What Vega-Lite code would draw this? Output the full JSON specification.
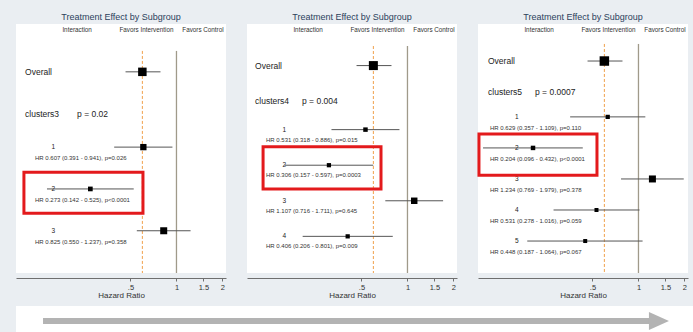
{
  "$schema": "https://vega.github.io/schema/vega-lite/v6.json",
  "padding": {"left": 0, "top": 13, "right": 0, "bottom": 0},
  "background": "#eaeef2",
  "datasets": {
    "rows": [
      {"panel": 1, "kind": "overall", "label": "Overall", "pos": 1, "hr": 0.598, "lo": 0.464, "hi": 0.786, "w": 72},
      {"panel": 1, "kind": "group", "label": "clusters3", "p": "p = 0.02", "pos": 2},
      {"panel": 1, "kind": "sub", "label": "1", "pos": 2.8, "hr": 0.607, "lo": 0.391, "hi": 0.941, "w": 40, "summary": "HR 0.607 (0.391 - 0.941), p=0.026"},
      {"panel": 1, "kind": "sub", "label": "2", "pos": 3.8, "hr": 0.273, "lo": 0.142, "hi": 0.525, "w": 22, "summary": "HR 0.273 (0.142 - 0.525), p<0.0001"},
      {"panel": 1, "kind": "sub", "label": "3", "pos": 4.8, "hr": 0.825, "lo": 0.55, "hi": 1.237, "w": 49, "summary": "HR 0.825 (0.550 - 1.237), p=0.358"},
      {"panel": 2, "kind": "overall", "label": "Overall", "pos": 1, "hr": 0.598, "lo": 0.464, "hi": 0.786, "w": 81},
      {"panel": 2, "kind": "group", "label": "clusters4", "p": "p = 0.004", "pos": 2},
      {"panel": 2, "kind": "sub", "label": "1", "pos": 2.8, "hr": 0.531, "lo": 0.318, "hi": 0.886, "w": 20, "summary": "HR 0.531 (0.318 - 0.886), p=0.015"},
      {"panel": 2, "kind": "sub", "label": "2", "pos": 3.8, "hr": 0.306, "lo": 0.157, "hi": 0.597, "w": 18, "summary": "HR 0.306 (0.157 - 0.597), p=0.0003"},
      {"panel": 2, "kind": "sub", "label": "3", "pos": 4.8, "hr": 1.107, "lo": 0.716, "hi": 1.711, "w": 42, "summary": "HR 1.107 (0.716 - 1.711), p=0.645"},
      {"panel": 2, "kind": "sub", "label": "4", "pos": 5.8, "hr": 0.406, "lo": 0.206, "hi": 0.801, "w": 18, "summary": "HR 0.406 (0.206 - 0.801), p=0.009"},
      {"panel": 3, "kind": "overall", "label": "Overall", "pos": 1, "hr": 0.598, "lo": 0.464, "hi": 0.786, "w": 90},
      {"panel": 3, "kind": "group", "label": "clusters5", "p": "p = 0.0007", "pos": 2},
      {"panel": 3, "kind": "sub", "label": "1", "pos": 2.8, "hr": 0.629, "lo": 0.357, "hi": 1.109, "w": 18, "summary": "HR 0.629 (0.357 - 1.109), p=0.110"},
      {"panel": 3, "kind": "sub", "label": "2", "pos": 3.8, "hr": 0.204, "lo": 0.096, "hi": 0.432, "w": 20, "summary": "HR 0.204 (0.096 - 0.432), p<0.0001"},
      {"panel": 3, "kind": "sub", "label": "3", "pos": 4.8, "hr": 1.234, "lo": 0.769, "hi": 1.979, "w": 49, "summary": "HR 1.234 (0.769 - 1.979), p=0.378"},
      {"panel": 3, "kind": "sub", "label": "4", "pos": 5.8, "hr": 0.531, "lo": 0.278, "hi": 1.016, "w": 16, "summary": "HR 0.531 (0.278 - 1.016), p=0.059"},
      {"panel": 3, "kind": "sub", "label": "5", "pos": 6.8, "hr": 0.448, "lo": 0.187, "hi": 1.064, "w": 16, "summary": "HR 0.448 (0.187 - 1.064), p=0.067"}
    ],
    "highlight": [
      {"panel": 1, "cluster": "2"},
      {"panel": 2, "cluster": "2"},
      {"panel": 3, "cluster": "2"}
    ]
  },
  "spacing": 6,
  "vconcat": [
    {
      "spacing": 5,
      "resolve": {"scale": {"x": "independent", "y": "independent"}},
      "hconcat": [
        {
          "width": 210, "height": 249,
          "title": {"text": "Treatment Effect by Subgroup", "fontSize": 9, "fontWeight": "normal", "color": "#2b3f5c", "offset": 2, "frame": "group", "anchor": "middle"},
          "layer": [
            {"data": {"name": "rows"}, "transform": [{"filter": "datum.panel == 1 && datum.kind == 'overall'"}],
             "mark": {"type": "rule", "color": "#a09a8a", "strokeWidth": 1.3},
             "encoding": {"x": {"datum": 1, "type": "quantitative", "scale": {"type": "log", "domain": [0.089, 2.11], "nice": false}},
                          "y": {"datum": 0.5, "type": "quantitative", "scale": {"domain": [-0.144, 5.81], "reverse": true, "nice": false, "zero": false}},
                          "y2": {"datum": 5.81}}},
            {"data": {"name": "rows"}, "transform": [{"filter": "datum.panel == 1 && datum.kind == 'overall'"}],
             "mark": {"type": "rule", "color": "#f0a04b", "strokeWidth": 1, "strokeDash": [3, 2]},
             "encoding": {"x": {"field": "hr", "type": "quantitative", "scale": {"type": "log", "domain": [0.089, 2.11], "nice": false}},
                          "y": {"datum": 0.5, "type": "quantitative", "scale": {"domain": [-0.144, 5.81], "reverse": true, "nice": false, "zero": false}},
                          "y2": {"datum": 5.81}}},
            {"data": {"name": "rows"}, "transform": [{"filter": "datum.panel == 1 && datum.kind != 'group'"}],
             "mark": {"type": "rule", "color": "#555555", "strokeWidth": 1},
             "encoding": {"x": {"field": "lo", "type": "quantitative", "scale": {"type": "log", "domain": [0.089, 2.11], "nice": false},
                                "axis": {"values": [0.5, 1, 1.5, 2], "labelExpr": "datum.value == 0.5 ? '.5' : format(datum.value, '~g')", "title": "Hazard Ratio", "offset": 5, "grid": false, "domainColor": "#6f6f6f", "tickColor": "#6f6f6f", "tickSize": 3, "labelFontSize": 7.5, "labelColor": "#333333", "labelPadding": 2, "labelOverlap": false, "labelFlush": false, "titleFontSize": 8, "titleFontWeight": "normal", "titleColor": "#333333", "titlePadding": 1}},
                          "x2": {"field": "hi"},
                          "y": {"field": "pos", "type": "quantitative", "scale": {"domain": [-0.144, 5.81], "reverse": true, "nice": false, "zero": false},
                                "axis": {"domain": false, "ticks": false, "labels": false, "grid": false, "title": "", "minExtent": 16, "maxExtent": 16}}}},
            {"data": {"name": "rows"}, "transform": [{"filter": "datum.panel == 1 && datum.kind != 'group'"}],
             "mark": {"type": "point", "shape": "square", "filled": true, "color": "#000000", "opacity": 1},
             "encoding": {"x": {"field": "hr", "type": "quantitative", "scale": {"type": "log", "domain": [0.089, 2.11], "nice": false}},
                          "y": {"field": "pos", "type": "quantitative", "scale": {"domain": [-0.144, 5.81], "reverse": true, "nice": false, "zero": false}},
                          "size": {"field": "w", "type": "quantitative", "scale": {"domain": [0, 100], "range": [0, 100]}, "legend": null}}},
            {"data": {"name": "rows"}, "transform": [{"filter": "datum.panel == 1 && datum.kind != 'sub'"}],
             "mark": {"type": "text", "align": "left", "baseline": "middle", "fontSize": 8.5, "color": "#222222"},
             "encoding": {"text": {"field": "label"},
                          "x": {"datum": 0.102, "type": "quantitative", "scale": {"type": "log", "domain": [0.089, 2.11], "nice": false}},
                          "y": {"field": "pos", "type": "quantitative", "scale": {"domain": [-0.144, 5.81], "reverse": true, "nice": false, "zero": false}}}},
            {"data": {"name": "rows"}, "transform": [{"filter": "datum.panel == 1 && datum.kind == 'group'"}],
             "mark": {"type": "text", "align": "left", "baseline": "middle", "fontSize": 8.5, "color": "#222222"},
             "encoding": {"text": {"field": "p"},
                          "x": {"datum": 0.2235, "type": "quantitative", "scale": {"type": "log", "domain": [0.089, 2.11], "nice": false}},
                          "y": {"field": "pos", "type": "quantitative", "scale": {"domain": [-0.144, 5.81], "reverse": true, "nice": false, "zero": false}}}},
            {"data": {"name": "rows"}, "transform": [{"filter": "datum.panel == 1 && datum.kind == 'sub'"}],
             "mark": {"type": "text", "align": "center", "baseline": "middle", "fontSize": 6.5, "color": "#222222"},
             "encoding": {"text": {"field": "label"},
                          "x": {"datum": 0.156, "type": "quantitative", "scale": {"type": "log", "domain": [0.089, 2.11], "nice": false}},
                          "y": {"field": "pos", "type": "quantitative", "scale": {"domain": [-0.144, 5.81], "reverse": true, "nice": false, "zero": false}}}},
            {"data": {"name": "rows"}, "transform": [{"filter": "datum.panel == 1 && datum.kind == 'sub'"}],
             "mark": {"type": "text", "align": "left", "baseline": "middle", "fontSize": 6, "dy": 11, "color": "#333333"},
             "encoding": {"text": {"field": "summary"},
                          "x": {"datum": 0.1185, "type": "quantitative", "scale": {"type": "log", "domain": [0.089, 2.11], "nice": false}},
                          "y": {"field": "pos", "type": "quantitative", "scale": {"domain": [-0.144, 5.81], "reverse": true, "nice": false, "zero": false}}}},
            {"data": {"name": "rows"}, "transform": [{"filter": "datum.panel == 1 && datum.kind == 'overall'"}],
             "mark": {"type": "text", "align": "center", "baseline": "middle", "fontSize": 6.3, "color": "#333333"},
             "encoding": {"text": {"value": "Interaction"},
                          "x": {"datum": 0.2235, "type": "quantitative", "scale": {"type": "log", "domain": [0.089, 2.11], "nice": false}},
                          "y": {"datum": 0, "type": "quantitative", "scale": {"domain": [-0.144, 5.81], "reverse": true, "nice": false, "zero": false}}}},
            {"data": {"name": "rows"}, "transform": [{"filter": "datum.panel == 1 && datum.kind == 'overall'"}],
             "mark": {"type": "text", "align": "center", "baseline": "middle", "fontSize": 6.3, "color": "#333333"},
             "encoding": {"text": {"value": "Favors Intervention"},
                          "x": {"datum": 0.636, "type": "quantitative", "scale": {"type": "log", "domain": [0.089, 2.11], "nice": false}},
                          "y": {"datum": 0, "type": "quantitative", "scale": {"domain": [-0.144, 5.81], "reverse": true, "nice": false, "zero": false}}}},
            {"data": {"name": "rows"}, "transform": [{"filter": "datum.panel == 1 && datum.kind == 'overall'"}],
             "mark": {"type": "text", "align": "center", "baseline": "middle", "fontSize": 6.3, "color": "#333333"},
             "encoding": {"text": {"value": "Favors Control"},
                          "x": {"datum": 1.491, "type": "quantitative", "scale": {"type": "log", "domain": [0.089, 2.11], "nice": false}},
                          "y": {"datum": 0, "type": "quantitative", "scale": {"domain": [-0.144, 5.81], "reverse": true, "nice": false, "zero": false}}}},
            {"data": {"name": "highlight"}, "transform": [{"filter": "datum.panel == 1"}],
             "mark": {"type": "rect", "filled": false, "color": "#e31a1c", "strokeWidth": 3},
             "encoding": {"x": {"datum": 0.1003, "type": "quantitative", "scale": {"type": "log", "domain": [0.089, 2.11], "nice": false}},
                          "x2": {"datum": 0.6035},
                          "y": {"datum": 3.4, "type": "quantitative", "scale": {"domain": [-0.144, 5.81], "reverse": true, "nice": false, "zero": false}},
                          "y2": {"datum": 4.38}}}
          ]
        },
        {
          "width": 210, "height": 249,
          "title": {"text": "Treatment Effect by Subgroup", "fontSize": 9, "fontWeight": "normal", "color": "#2b3f5c", "offset": 2, "frame": "group", "anchor": "middle"},
          "layer": [
            {"data": {"name": "rows"}, "transform": [{"filter": "datum.panel == 2 && datum.kind == 'overall'"}],
             "mark": {"type": "rule", "color": "#a09a8a", "strokeWidth": 1.3},
             "encoding": {"x": {"datum": 1, "type": "quantitative", "scale": {"type": "log", "domain": [0.089, 2.11], "nice": false}},
                          "y": {"datum": 0.45, "type": "quantitative", "scale": {"domain": [-0.169, 6.83], "reverse": true, "nice": false, "zero": false}},
                          "y2": {"datum": 6.83}}},
            {"data": {"name": "rows"}, "transform": [{"filter": "datum.panel == 2 && datum.kind == 'overall'"}],
             "mark": {"type": "rule", "color": "#f0a04b", "strokeWidth": 1, "strokeDash": [3, 2]},
             "encoding": {"x": {"field": "hr", "type": "quantitative", "scale": {"type": "log", "domain": [0.089, 2.11], "nice": false}},
                          "y": {"datum": 0.45, "type": "quantitative", "scale": {"domain": [-0.169, 6.83], "reverse": true, "nice": false, "zero": false}},
                          "y2": {"datum": 6.83}}},
            {"data": {"name": "rows"}, "transform": [{"filter": "datum.panel == 2 && datum.kind != 'group'"}],
             "mark": {"type": "rule", "color": "#555555", "strokeWidth": 1},
             "encoding": {"x": {"field": "lo", "type": "quantitative", "scale": {"type": "log", "domain": [0.089, 2.11], "nice": false},
                                "axis": {"values": [0.5, 1, 1.5, 2], "labelExpr": "datum.value == 0.5 ? '.5' : format(datum.value, '~g')", "title": "Hazard Ratio", "offset": 5, "grid": false, "domainColor": "#6f6f6f", "tickColor": "#6f6f6f", "tickSize": 3, "labelFontSize": 7.5, "labelColor": "#333333", "labelPadding": 2, "labelOverlap": false, "labelFlush": false, "titleFontSize": 8, "titleFontWeight": "normal", "titleColor": "#333333", "titlePadding": 1}},
                          "x2": {"field": "hi"},
                          "y": {"field": "pos", "type": "quantitative", "scale": {"domain": [-0.169, 6.83], "reverse": true, "nice": false, "zero": false},
                                "axis": {"domain": false, "ticks": false, "labels": false, "grid": false, "title": "", "minExtent": 16, "maxExtent": 16}}}},
            {"data": {"name": "rows"}, "transform": [{"filter": "datum.panel == 2 && datum.kind != 'group'"}],
             "mark": {"type": "point", "shape": "square", "filled": true, "color": "#000000", "opacity": 1},
             "encoding": {"x": {"field": "hr", "type": "quantitative", "scale": {"type": "log", "domain": [0.089, 2.11], "nice": false}},
                          "y": {"field": "pos", "type": "quantitative", "scale": {"domain": [-0.169, 6.83], "reverse": true, "nice": false, "zero": false}},
                          "size": {"field": "w", "type": "quantitative", "scale": {"domain": [0, 100], "range": [0, 100]}, "legend": null}}},
            {"data": {"name": "rows"}, "transform": [{"filter": "datum.panel == 2 && datum.kind != 'sub'"}],
             "mark": {"type": "text", "align": "left", "baseline": "middle", "fontSize": 8.5, "color": "#222222"},
             "encoding": {"text": {"field": "label"},
                          "x": {"datum": 0.1005, "type": "quantitative", "scale": {"type": "log", "domain": [0.089, 2.11], "nice": false}},
                          "y": {"field": "pos", "type": "quantitative", "scale": {"domain": [-0.169, 6.83], "reverse": true, "nice": false, "zero": false}}}},
            {"data": {"name": "rows"}, "transform": [{"filter": "datum.panel == 2 && datum.kind == 'group'"}],
             "mark": {"type": "text", "align": "left", "baseline": "middle", "fontSize": 8.5, "color": "#222222"},
             "encoding": {"text": {"field": "p"},
                          "x": {"datum": 0.204, "type": "quantitative", "scale": {"type": "log", "domain": [0.089, 2.11], "nice": false}},
                          "y": {"field": "pos", "type": "quantitative", "scale": {"domain": [-0.169, 6.83], "reverse": true, "nice": false, "zero": false}}}},
            {"data": {"name": "rows"}, "transform": [{"filter": "datum.panel == 2 && datum.kind == 'sub'"}],
             "mark": {"type": "text", "align": "center", "baseline": "middle", "fontSize": 6.5, "color": "#222222"},
             "encoding": {"text": {"field": "label"},
                          "x": {"datum": 0.156, "type": "quantitative", "scale": {"type": "log", "domain": [0.089, 2.11], "nice": false}},
                          "y": {"field": "pos", "type": "quantitative", "scale": {"domain": [-0.169, 6.83], "reverse": true, "nice": false, "zero": false}}}},
            {"data": {"name": "rows"}, "transform": [{"filter": "datum.panel == 2 && datum.kind == 'sub'"}],
             "mark": {"type": "text", "align": "left", "baseline": "middle", "fontSize": 6, "dy": 10, "color": "#333333"},
             "encoding": {"text": {"field": "summary"},
                          "x": {"datum": 0.1185, "type": "quantitative", "scale": {"type": "log", "domain": [0.089, 2.11], "nice": false}},
                          "y": {"field": "pos", "type": "quantitative", "scale": {"domain": [-0.169, 6.83], "reverse": true, "nice": false, "zero": false}}}},
            {"data": {"name": "rows"}, "transform": [{"filter": "datum.panel == 2 && datum.kind == 'overall'"}],
             "mark": {"type": "text", "align": "center", "baseline": "middle", "fontSize": 6.3, "color": "#333333"},
             "encoding": {"text": {"value": "Interaction"},
                          "x": {"datum": 0.2235, "type": "quantitative", "scale": {"type": "log", "domain": [0.089, 2.11], "nice": false}},
                          "y": {"datum": 0, "type": "quantitative", "scale": {"domain": [-0.169, 6.83], "reverse": true, "nice": false, "zero": false}}}},
            {"data": {"name": "rows"}, "transform": [{"filter": "datum.panel == 2 && datum.kind == 'overall'"}],
             "mark": {"type": "text", "align": "center", "baseline": "middle", "fontSize": 6.3, "color": "#333333"},
             "encoding": {"text": {"value": "Favors Intervention"},
                          "x": {"datum": 0.636, "type": "quantitative", "scale": {"type": "log", "domain": [0.089, 2.11], "nice": false}},
                          "y": {"datum": 0, "type": "quantitative", "scale": {"domain": [-0.169, 6.83], "reverse": true, "nice": false, "zero": false}}}},
            {"data": {"name": "rows"}, "transform": [{"filter": "datum.panel == 2 && datum.kind == 'overall'"}],
             "mark": {"type": "text", "align": "center", "baseline": "middle", "fontSize": 6.3, "color": "#333333"},
             "encoding": {"text": {"value": "Favors Control"},
                          "x": {"datum": 1.491, "type": "quantitative", "scale": {"type": "log", "domain": [0.089, 2.11], "nice": false}},
                          "y": {"datum": 0, "type": "quantitative", "scale": {"domain": [-0.169, 6.83], "reverse": true, "nice": false, "zero": false}}}},
            {"data": {"name": "highlight"}, "transform": [{"filter": "datum.panel == 2"}],
             "mark": {"type": "rect", "filled": false, "color": "#e31a1c", "strokeWidth": 3},
             "encoding": {"x": {"datum": 0.1134, "type": "quantitative", "scale": {"type": "log", "domain": [0.089, 2.11], "nice": false}},
                          "x2": {"datum": 0.671},
                          "y": {"datum": 3.28, "type": "quantitative", "scale": {"domain": [-0.169, 6.83], "reverse": true, "nice": false, "zero": false}},
                          "y2": {"datum": 4.47}}}
          ]
        },
        {
          "width": 210, "height": 249,
          "title": {"text": "Treatment Effect by Subgroup", "fontSize": 9, "fontWeight": "normal", "color": "#2b3f5c", "offset": 2, "frame": "group", "anchor": "middle"},
          "layer": [
            {"data": {"name": "rows"}, "transform": [{"filter": "datum.panel == 3 && datum.kind == 'overall'"}],
             "mark": {"type": "rule", "color": "#a09a8a", "strokeWidth": 1.3},
             "encoding": {"x": {"datum": 1, "type": "quantitative", "scale": {"type": "log", "domain": [0.089, 2.11], "nice": false}},
                          "y": {"datum": 0.45, "type": "quantitative", "scale": {"domain": [-0.193, 7.83], "reverse": true, "nice": false, "zero": false}},
                          "y2": {"datum": 7.83}}},
            {"data": {"name": "rows"}, "transform": [{"filter": "datum.panel == 3 && datum.kind == 'overall'"}],
             "mark": {"type": "rule", "color": "#f0a04b", "strokeWidth": 1, "strokeDash": [3, 2]},
             "encoding": {"x": {"field": "hr", "type": "quantitative", "scale": {"type": "log", "domain": [0.089, 2.11], "nice": false}},
                          "y": {"datum": 0.45, "type": "quantitative", "scale": {"domain": [-0.193, 7.83], "reverse": true, "nice": false, "zero": false}},
                          "y2": {"datum": 7.83}}},
            {"data": {"name": "rows"}, "transform": [{"filter": "datum.panel == 3 && datum.kind != 'group'"}],
             "mark": {"type": "rule", "color": "#555555", "strokeWidth": 1},
             "encoding": {"x": {"field": "lo", "type": "quantitative", "scale": {"type": "log", "domain": [0.089, 2.11], "nice": false},
                                "axis": {"values": [0.5, 1, 1.5, 2], "labelExpr": "datum.value == 0.5 ? '.5' : format(datum.value, '~g')", "title": "Hazard Ratio", "offset": 5, "grid": false, "domainColor": "#6f6f6f", "tickColor": "#6f6f6f", "tickSize": 3, "labelFontSize": 7.5, "labelColor": "#333333", "labelPadding": 2, "labelOverlap": false, "labelFlush": false, "titleFontSize": 8, "titleFontWeight": "normal", "titleColor": "#333333", "titlePadding": 1}},
                          "x2": {"field": "hi"},
                          "y": {"field": "pos", "type": "quantitative", "scale": {"domain": [-0.193, 7.83], "reverse": true, "nice": false, "zero": false},
                                "axis": {"domain": false, "ticks": false, "labels": false, "grid": false, "title": "", "minExtent": 16, "maxExtent": 16}}}},
            {"data": {"name": "rows"}, "transform": [{"filter": "datum.panel == 3 && datum.kind != 'group'"}],
             "mark": {"type": "point", "shape": "square", "filled": true, "color": "#000000", "opacity": 1},
             "encoding": {"x": {"field": "hr", "type": "quantitative", "scale": {"type": "log", "domain": [0.089, 2.11], "nice": false}},
                          "y": {"field": "pos", "type": "quantitative", "scale": {"domain": [-0.193, 7.83], "reverse": true, "nice": false, "zero": false}},
                          "size": {"field": "w", "type": "quantitative", "scale": {"domain": [0, 100], "range": [0, 100]}, "legend": null}}},
            {"data": {"name": "rows"}, "transform": [{"filter": "datum.panel == 3 && datum.kind != 'sub'"}],
             "mark": {"type": "text", "align": "left", "baseline": "middle", "fontSize": 8.5, "color": "#222222"},
             "encoding": {"text": {"field": "label"},
                          "x": {"datum": 0.1035, "type": "quantitative", "scale": {"type": "log", "domain": [0.089, 2.11], "nice": false}},
                          "y": {"field": "pos", "type": "quantitative", "scale": {"domain": [-0.193, 7.83], "reverse": true, "nice": false, "zero": false}}}},
            {"data": {"name": "rows"}, "transform": [{"filter": "datum.panel == 3 && datum.kind == 'group'"}],
             "mark": {"type": "text", "align": "left", "baseline": "middle", "fontSize": 8.5, "color": "#222222"},
             "encoding": {"text": {"field": "p"},
                          "x": {"datum": 0.2102, "type": "quantitative", "scale": {"type": "log", "domain": [0.089, 2.11], "nice": false}},
                          "y": {"field": "pos", "type": "quantitative", "scale": {"domain": [-0.193, 7.83], "reverse": true, "nice": false, "zero": false}}}},
            {"data": {"name": "rows"}, "transform": [{"filter": "datum.panel == 3 && datum.kind == 'sub'"}],
             "mark": {"type": "text", "align": "center", "baseline": "middle", "fontSize": 6.5, "color": "#222222"},
             "encoding": {"text": {"field": "label"},
                          "x": {"datum": 0.16, "type": "quantitative", "scale": {"type": "log", "domain": [0.089, 2.11], "nice": false}},
                          "y": {"field": "pos", "type": "quantitative", "scale": {"domain": [-0.193, 7.83], "reverse": true, "nice": false, "zero": false}}}},
            {"data": {"name": "rows"}, "transform": [{"filter": "datum.panel == 3 && datum.kind == 'sub'"}],
             "mark": {"type": "text", "align": "left", "baseline": "middle", "fontSize": 6, "dy": 11, "color": "#333333"},
             "encoding": {"text": {"field": "summary"},
                          "x": {"datum": 0.1067, "type": "quantitative", "scale": {"type": "log", "domain": [0.089, 2.11], "nice": false}},
                          "y": {"field": "pos", "type": "quantitative", "scale": {"domain": [-0.193, 7.83], "reverse": true, "nice": false, "zero": false}}}},
            {"data": {"name": "rows"}, "transform": [{"filter": "datum.panel == 3 && datum.kind == 'overall'"}],
             "mark": {"type": "text", "align": "center", "baseline": "middle", "fontSize": 6.3, "color": "#333333"},
             "encoding": {"text": {"value": "Interaction"},
                          "x": {"datum": 0.2235, "type": "quantitative", "scale": {"type": "log", "domain": [0.089, 2.11], "nice": false}},
                          "y": {"datum": 0, "type": "quantitative", "scale": {"domain": [-0.193, 7.83], "reverse": true, "nice": false, "zero": false}}}},
            {"data": {"name": "rows"}, "transform": [{"filter": "datum.panel == 3 && datum.kind == 'overall'"}],
             "mark": {"type": "text", "align": "center", "baseline": "middle", "fontSize": 6.3, "color": "#333333"},
             "encoding": {"text": {"value": "Favors Intervention"},
                          "x": {"datum": 0.636, "type": "quantitative", "scale": {"type": "log", "domain": [0.089, 2.11], "nice": false}},
                          "y": {"datum": 0, "type": "quantitative", "scale": {"domain": [-0.193, 7.83], "reverse": true, "nice": false, "zero": false}}}},
            {"data": {"name": "rows"}, "transform": [{"filter": "datum.panel == 3 && datum.kind == 'overall'"}],
             "mark": {"type": "text", "align": "center", "baseline": "middle", "fontSize": 6.3, "color": "#333333"},
             "encoding": {"text": {"value": "Favors Control"},
                          "x": {"datum": 1.491, "type": "quantitative", "scale": {"type": "log", "domain": [0.089, 2.11], "nice": false}},
                          "y": {"datum": 0, "type": "quantitative", "scale": {"domain": [-0.193, 7.83], "reverse": true, "nice": false, "zero": false}}}},
            {"data": {"name": "highlight"}, "transform": [{"filter": "datum.panel == 3"}],
             "mark": {"type": "rect", "filled": false, "color": "#e31a1c", "strokeWidth": 3},
             "encoding": {"x": {"datum": 0.0903, "type": "quantitative", "scale": {"type": "log", "domain": [0.089, 2.11], "nice": false}},
                          "x2": {"datum": 0.535},
                          "y": {"datum": 3.35, "type": "quantitative", "scale": {"domain": [-0.193, 7.83], "reverse": true, "nice": false, "zero": false}},
                          "y2": {"datum": 4.68}}}
          ]
        }
      ]
    },
    {
      "width": 693, "height": 26,
      "data": {"values": [{"from": "clusters3", "to": "clusters5"}]},
      "layer": [
        {"mark": {"type": "rule", "color": "#b3b3b3", "strokeWidth": 6},
         "encoding": {"x": {"datum": 3.9, "type": "quantitative", "scale": {"domain": [0, 100], "nice": false, "zero": false}, "axis": null},
                      "x2": {"datum": 91.4},
                      "y": {"datum": 0, "type": "quantitative", "scale": {"domain": [-0.85, 1.15], "nice": false, "zero": false}, "axis": null}}},
        {"mark": {"type": "point", "shape": "M-1,-0.9L1,0L-1,0.9Z", "filled": true, "color": "#b3b3b3", "opacity": 1, "size": 400},
         "encoding": {"x": {"datum": 92.78, "type": "quantitative", "scale": {"domain": [0, 100], "nice": false, "zero": false}, "axis": null},
                      "y": {"datum": 0, "type": "quantitative", "scale": {"domain": [-0.85, 1.15], "nice": false, "zero": false}, "axis": null}}}
      ]
    }
  ],
  "config": {
    "font": "Liberation Sans",
    "view": {"fill": "white", "stroke": null}
  }
}
